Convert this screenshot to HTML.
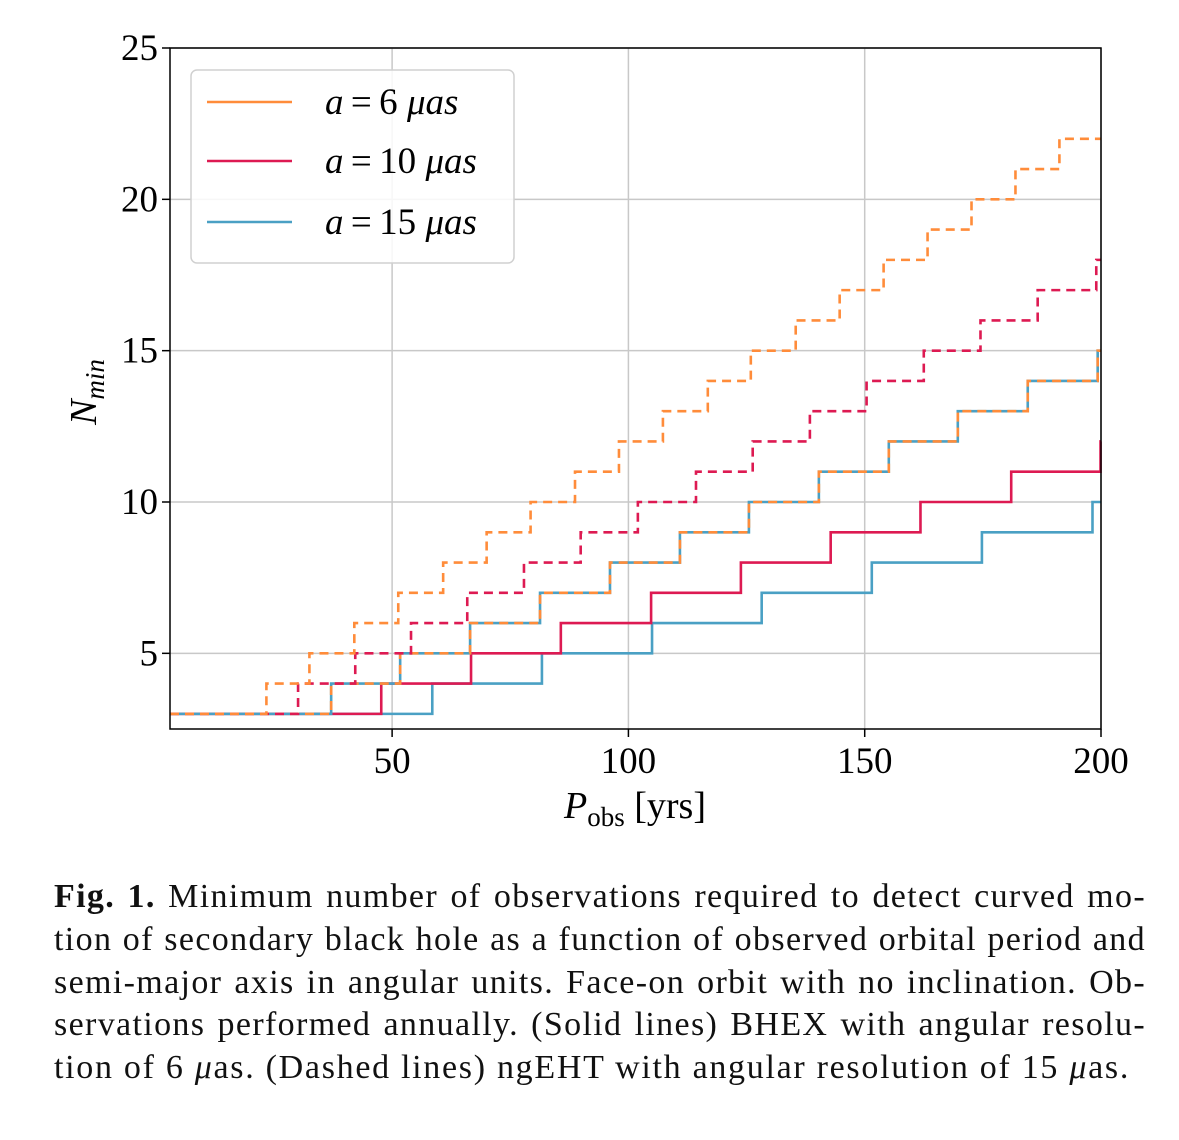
<!DOCTYPE html>
<html><head><meta charset="utf-8">
<style>
body{margin:0;background:#fff;width:1179px;height:1140px;overflow:hidden;font-family:"Liberation Serif",serif;}
#cap{position:absolute;left:54px;top:876px;width:1092px;font-size:34px;line-height:42.8px;color:#111;letter-spacing:1.35px;}
#cap div{text-align:justify;text-align-last:justify;white-space:nowrap;}
#cap div.last{text-align-last:left;letter-spacing:1.7px;}
</style></head><body>
<svg id="chart" width="1179" height="870" style="position:absolute;left:0;top:0" font-family="Liberation Serif, serif"></svg>
<div id="cap">
<div><b>Fig. 1.</b> Minimum number of observations required to detect curved mo-</div>
<div>tion of secondary black hole as a function of observed orbital period and</div>
<div>semi-major axis in angular units. Face-on orbit with no inclination. Ob-</div>
<div>servations performed annually. (Solid lines) BHEX with angular resolu-</div>
<div class="last">tion of 6 <i>μ</i>as. (Dashed lines) ngEHT with angular resolution of 15 <i>μ</i>as.</div>
</div>
<script>
const xTicks=[50,100,150,200];
const yTicks=[5,10,15,20,25];
const orangeDashedSteps=[23.4,32.5,42,51.3,60.8,70,79.3,88.7,98,107.3,116.8,125.9,135.4,144.7,154,163.3,172.6,181.9,191.2];
const crimsonDashedSteps=[30.1,42.2,54,65.9,77.9,89.9,102,114.3,126.3,138.4,150.4,162.5,174.5,186.6,199];
const overlapSteps=[37.1,51.7,66.5,81.3,96.1,110.9,125.5,140.3,155.1,169.7,184.5,199.3];
const crimsonSolidSteps=[47.7,66.7,85.7,104.8,123.8,142.8,161.8,181,199.9];
const blueSolidSteps=[58.5,81.7,105,128.2,151.5,174.8,198.2];
const startValue=3;
const X0=3,X1=200,Y0=2.5,Y1=25;
const L=170,R=1101,T=48,B=729;
const sx=v=>L+(v-X0)/(X1-X0)*(R-L);
const sy=v=>B-(v-Y0)/(Y1-Y0)*(B-T);
const svg=document.getElementById('chart');
const NS='http://www.w3.org/2000/svg';
function mk(t,a,p){const e=document.createElementNS(NS,t);for(const k in a)e.setAttribute(k,a[k]);(p||svg).appendChild(e);return e;}
xTicks.forEach(t=>{const l=mk('line',{x1:sx(t),x2:sx(t),y1:T,y2:B,stroke:'#c8c8c8','stroke-width':1.5});


const tk=mk('line',{x1:sx(t),x2:sx(t),y1:B,y2:B+8,stroke:'#000','stroke-width':1.5});


const tx=mk('text',{x:sx(t),y:B+44,'font-size':37,'text-anchor':'middle'});tx.textContent=t;

});
yTicks.forEach(t=>{const l=mk('line',{x1:L,x2:R,y1:sy(t),y2:sy(t),stroke:'#c8c8c8','stroke-width':1.5});


const tk=mk('line',{x1:L-8,x2:L,y1:sy(t),y2:sy(t),stroke:'#000','stroke-width':1.5});


const tx=mk('text',{x:L-12,y:sy(t)+12,'font-size':37,'text-anchor':'end'});tx.textContent=t;

});
function stepPath(steps){let v=startValue,d='M'+sx(X0)+','+sy(v);
steps.forEach(s=>{d+=' H'+sx(s);v+=1;d+=' V'+sy(v);});d+=' H'+sx(X1);return d;}
function series(steps,color,dash,name){const p=mk('path',{d:stepPath(steps),fill:'none',stroke:color,'stroke-width':2.6});
if(dash)p.setAttribute('stroke-dasharray',dash);

}
series(blueSolidSteps,'#4aa0c4',null,'series-15uas-bhex');
series(crimsonSolidSteps,'#dd1a52',null,'series-10uas-bhex');
series(overlapSteps,'#4aa0c4',null,'series-6uas-bhex');
series(overlapSteps,'#ff8c3a','9,6','series-15uas-ngeht');
series(crimsonDashedSteps,'#dd1a52','9,6','series-10uas-ngeht');
series(orangeDashedSteps,'#ff8c3a','9,6','series-6uas-ngeht');
const fr=mk('rect',{x:L,y:T,width:R-L,height:B-T,fill:'none',stroke:'#000','stroke-width':1.5});


const lg=mk('g',{});


mk('rect',{x:191,y:70,width:323,height:193,rx:6,fill:'#fff','fill-opacity':0.85,stroke:'#d0d0d0','stroke-width':1.5},lg);
const legItems=[['#ff8c3a','6',102],['#dd1a52','10',161],['#4aa0c4','15',222]];
legItems.forEach(it=>{const ln=mk('line',{x1:207,x2:292,y1:it[2],y2:it[2],stroke:it[0],'stroke-width':2.6},lg);


const t=mk('text',{x:325,y:it[2]+12,'font-size':37},lg);
t.innerHTML='<tspan font-style="italic">a</tspan>\u2009=\u2009'+it[1]+' <tspan font-style="italic">μas</tspan>';

});
const xl=mk('text',{x:635,y:818,'font-size':38,'text-anchor':'middle'});
xl.innerHTML='<tspan font-style="italic">P</tspan><tspan font-size="27" dy="8">obs</tspan><tspan dy="-8"> [yrs]</tspan>';


const yl=mk('text',{transform:'translate(96,392) rotate(-90)','font-size':38,'text-anchor':'middle'});
yl.innerHTML='<tspan font-style="italic">N</tspan><tspan font-style="italic" font-size="27" dy="8">min</tspan>';


</script>
</body></html>
